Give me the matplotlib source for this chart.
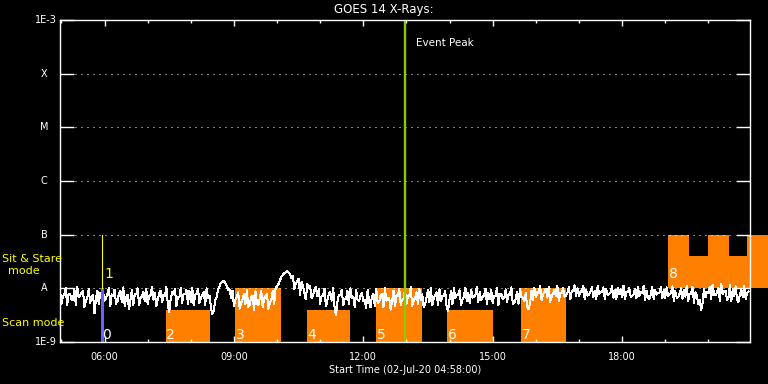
import numpy as np
import matplotlib.pyplot as plt
from matplotlib.ticker import FixedLocator, NullFormatter

# GOES 14 long channel flux, units of 1e-9 W/m^2
# flux_a at 04:58 + 4 min steps, flux_b at the 2 min points in between
flux_a = [
    9.5, 7.2, 10.1, 8.0, 6.1, 9.8, 10.6, 7.4, 8.8, 5.9, 9.9, 7.0, 3.4, 9.1, 8.3,
    8.6, 6.4, 10.2, 7.7, 9.5, 5.8, 8.9, 10.4, 6.9, 4.1, 9.2, 7.8, 10.0, 6.6, 8.7,
    9.7, 7.1, 10.5, 8.2, 6.3, 9.0, 7.5, 10.8, 3.6, 8.4, 9.6, 6.8, 10.1, 7.9, 9.3,
    8.9, 10.3, 7.6, 9.8, 6.7, 8.5, 10.0, 7.3, 3.3, 6.0, 9.5, 12.8, 13.9, 11.0, 9.6,
    9.0, 6.2, 8.4, 5.3, 7.9, 9.4, 5.0, 7.2, 8.8, 4.8, 9.1, 6.4, 7.7, 5.5, 8.9,
    10.2, 12.0, 16.5, 19.0, 20.8, 18.6, 17.2, 12.4, 15.0, 13.1, 8.2, 12.0, 11.1, 7.4, 10.5,
    9.8, 7.2, 9.9, 6.0, 8.7, 10.3, 3.2, 7.5, 9.4, 6.3, 8.9, 10.0, 7.0, 9.2, 5.8,
    8.3, 6.1, 9.5, 4.4, 8.0, 9.7, 5.6, 7.8, 10.1, 6.7, 4.0, 9.0, 7.4, 9.8, 6.2,
    9.6, 7.0, 10.4, 5.9, 8.5, 9.9, 7.7, 5.1, 9.3, 10.2, 6.6, 8.4, 9.7, 7.2, 8.9,
    3.8, 8.8, 10.0, 7.4, 9.2, 6.3, 10.3, 8.1, 9.5, 7.0, 10.6, 8.6, 6.9, 9.8, 8.2,
    9.4, 7.3, 10.1, 8.0, 6.2, 9.6, 7.8, 10.4, 5.4, 8.7, 9.9, 6.6, 8.3, 4.1, 9.0,
    10.3, 8.4, 11.0, 7.6, 9.9, 10.8, 6.9, 9.4, 11.2, 8.1, 10.0, 7.3, 10.7, 9.0, 11.4,
    10.1, 8.8, 11.3, 9.5, 7.7, 10.6, 9.1, 11.0, 8.3, 10.4, 9.7, 7.9, 10.9, 9.3, 10.2,
    9.6, 11.1, 8.5, 10.3, 7.2, 9.9, 10.8, 8.7, 11.2, 9.0, 6.4, 10.5, 9.4, 8.1, 10.7,
    9.2, 10.4, 7.6, 10.9, 8.9, 6.8, 10.1, 9.5, 11.3, 7.9, 10.6, 8.4, 5.2, 3.9, 9.8,
    8.6, 10.7, 11.8, 7.4, 10.2, 12.1, 8.8, 6.1, 11.5, 9.7, 10.9, 5.6, 9.3, 11.0, 8.2,
]
flux_b = [
    5.2, 7.6, 4.8, 8.0, 6.1, 4.9, 7.0, 8.2, 4.5, 6.6, 5.3, 7.4, 6.2, 5.0, 7.8,
    5.9, 8.1, 4.7, 7.3, 5.2, 7.9, 5.6, 4.6, 7.5, 6.0, 4.9, 7.7, 4.8, 7.0, 5.8,
    5.0, 7.5, 6.1, 4.6, 8.0, 5.5, 7.2, 4.9, 6.3, 7.9, 4.7, 6.8, 5.4, 7.7, 5.2,
    5.6, 4.8, 7.8, 5.3, 7.4, 4.9, 6.5, 4.4, 3.9, 6.8, 11.0, 13.2, 12.4, 9.4, 6.6,
    4.7, 7.0, 4.2, 6.3, 5.0, 4.5, 6.9, 4.0, 5.3, 6.6, 4.4, 7.3, 4.1, 6.0, 5.1,
    10.8, 14.0, 17.8, 20.0, 19.5, 15.5, 9.5, 13.5, 7.6, 11.5, 6.2, 10.0, 6.5, 9.5, 7.2,
    5.2, 7.2, 4.6, 7.8, 5.9, 4.4, 5.6, 7.6, 4.8, 6.4, 5.1, 6.7, 4.5, 6.1, 7.3,
    5.8, 4.3, 5.7, 7.1, 4.7, 5.3, 7.5, 4.4, 5.9, 6.7, 5.6, 4.6, 7.3, 4.9, 6.2,
    5.1, 7.4, 4.7, 6.6, 5.0, 6.1, 4.5, 6.9, 5.5, 4.8, 7.6, 4.9, 5.8, 7.2, 4.3,
    6.2, 5.0, 6.6, 7.5, 4.9, 7.1, 5.8, 5.3, 6.7, 7.6, 5.5, 6.1, 7.4, 5.1, 6.4,
    5.4, 7.2, 4.9, 8.0, 6.6, 5.5, 7.6, 5.0, 6.3, 5.2, 6.9, 5.7, 4.5, 5.3, 6.1,
    6.8, 8.3, 6.0, 8.5, 6.7, 5.6, 8.0, 7.2, 5.9, 8.1, 7.0, 8.4, 6.3, 8.8, 7.3,
    7.1, 8.6, 6.4, 7.3, 8.5, 6.8, 6.2, 7.9, 8.6, 6.3, 7.5, 8.5, 6.7, 6.4, 7.7,
    6.8, 6.3, 8.4, 6.9, 7.7, 6.6, 7.1, 8.3, 6.1, 6.7, 7.8, 6.4, 7.6, 8.3, 6.6,
    6.5, 7.3, 8.1, 5.8, 6.7, 7.9, 6.4, 7.0, 5.9, 8.0, 5.4, 7.5, 6.2, 5.3, 6.8,
    8.1, 6.4, 7.6, 8.3, 5.9, 7.7, 9.1, 6.7, 5.8, 7.1, 6.0, 7.7, 6.8, 6.3, 8.7,
]

# scan mode rasters
scan_labels = ["2", "3", "4", "5", "6", "7"]
scan_start = ["07:25", "09:02", "10:41", "12:18", "13:57", "15:40"]
scan_end = ["08:26", "10:05", "11:42", "13:21", "15:00", "16:42"]
scan_top = [4e-9, 1e-8, 4e-9, 1e-8, 4e-9, 1e-8]

# sit & stare 8, stepped top
ss_edges = ["19:04", "19:33", "20:00", "20:29", "20:54", "21:40"]
ss_top = [1e-7, 4e-8, 1e-7, 4e-8, 1e-7]

class_levels = [1e-8, 1e-7, 1e-6, 1e-5, 1e-4]
class_names = ["A", "B", "C", "M", "X"]


def hrs(s):
    h, m = s.split(":")
    return int(h) + int(m) / 60.0


t0 = hrs("04:58")
n = len(flux_a)
t = np.empty(2 * n)
t[0::2] = t0 + np.arange(n) * 4 / 60.0
t[1::2] = t0 + np.arange(n) * 4 / 60.0 + 2 / 60.0
f = np.empty(2 * n)
f[0::2] = flux_a
f[1::2] = flux_b
f = f * 1e-9

orange = "#ff8000"

fig = plt.figure(figsize=(7.68, 3.84), dpi=100, facecolor="black")
ax = fig.add_axes([60 / 768, 42 / 384, 690 / 768, 322 / 384], facecolor="black")
ax.set_yscale("log")
ax.set_xlim(t0, t0 + 16)
ax.set_ylim(1e-9, 1e-3)

# scan mode boxes
for lab, s, e, top in zip(scan_labels, scan_start, scan_end, scan_top):
    ax.fill_between([hrs(s), hrs(e)], 1e-9, top, color=orange, lw=0, zorder=1)
    ax.annotate(lab, (hrs(s), 1e-9), xytext=(0.5, 2.5), textcoords="offset points",
                color="white", fontsize=10, va="baseline", ha="left", zorder=4)

# sit & stare box 8
for i, top in enumerate(ss_top):
    ax.fill_between([hrs(ss_edges[i]), hrs(ss_edges[i + 1])], 1e-8, top,
                    color=orange, lw=0, zorder=1, clip_on=False)
ax.annotate("8", (hrs(ss_edges[0]), 1e-8), xytext=(0.5, 7.5), textcoords="offset points",
            color="white", fontsize=10, va="baseline", ha="left", zorder=4)

# scan 0 and sit & stare 1
ax.fill_between([hrs("05:55"), hrs("05:59")], 1e-9, 1e-8, color="#6464ff", lw=0, zorder=3)
ax.annotate("0", (hrs("05:55"), 1e-9), xytext=(0.5, 2.5), textcoords="offset points",
            color="white", fontsize=10, va="baseline", ha="left", zorder=4)
ax.plot([hrs("05:57"), hrs("05:57")], [1e-8, 1e-7], color="yellow", lw=0.8, zorder=3)
ax.annotate("1", (hrs("05:57"), 1e-8), xytext=(1.2, 7.5), textcoords="offset points",
            color="yellow", fontsize=10, va="baseline", ha="left")

# GOES trace
ax.plot(t, f, color="white", lw=0.72, zorder=2, antialiased=False)

# event peak
ax.axvline(hrs("12:58"), color="#88cc00", lw=1.7, zorder=4)
ax.text(hrs("13:13"), 3.7e-4, "Event Peak", color="white", fontsize=7.5, va="center", ha="left")

# class dotted lines
for lev in class_levels:
    ax.axhline(lev, xmin=15 / 690, xmax=1 - 15 / 690, color="white", lw=0.72,
               linestyle=(0, (1, 5)), zorder=2)

for sp in ax.spines.values():
    sp.set_color("white")
    sp.set_linewidth(1)
    sp.set_zorder(5)

ax.yaxis.set_major_locator(FixedLocator([1e-9, 1e-8, 1e-7, 1e-6, 1e-5, 1e-4, 1e-3]))
ax.yaxis.set_minor_locator(FixedLocator([]))
ax.yaxis.set_major_formatter(NullFormatter())
ax.tick_params(axis="y", which="major", direction="in", length=10, width=1,
               color="white", left=True, right=True)

ax.xaxis.set_major_locator(FixedLocator([6, 9, 12, 15, 18]))
ax.xaxis.set_minor_locator(FixedLocator(range(5, 21)))
ax.set_xticklabels(["06:00", "09:00", "12:00", "15:00", "18:00"])
ax.tick_params(axis="x", which="major", direction="in", length=4.5, width=1,
               color="white", top=True, bottom=True, labelcolor="white",
               labelsize=7, pad=7)
ax.tick_params(axis="x", which="minor", direction="in", length=2.5, width=1,
               color="white", top=True, bottom=True)

# y labels: decades at ends, GOES classes between
yt = ax.get_yaxis_transform()
ax.text(-3 / 690, 1e-3, "1E-3", transform=yt, color="white", fontsize=7, ha="right", va="center")
ax.text(-3 / 690, 1e-9, "1E-9", transform=yt, color="white", fontsize=7, ha="right", va="center")
for lev, name in zip(class_levels, class_names):
    ax.text(-16 / 690, lev, name, transform=yt, color="white", fontsize=7, ha="center", va="center")

fig.text(2 / 768, 1 - 259 / 384, "Sit & Stare", color="yellow", fontsize=8, ha="left", va="center")
fig.text(24 / 768, 1 - 271 / 384, "mode", color="yellow", fontsize=8, ha="center", va="center")
fig.text(2 / 768, 1 - 323 / 384, "Scan mode", color="yellow", fontsize=8, ha="left", va="center")

fig.text(0.5, 1 - 10 / 384, "GOES 14 X-Rays:", color="white", fontsize=8.5, ha="center", va="center")
fig.text(405 / 768, 1 - 370 / 384, "Start Time (02-Jul-20 04:58:00)", color="white",
         fontsize=7, ha="center", va="center")

fig.savefig("out.png", dpi=100, facecolor="black")
